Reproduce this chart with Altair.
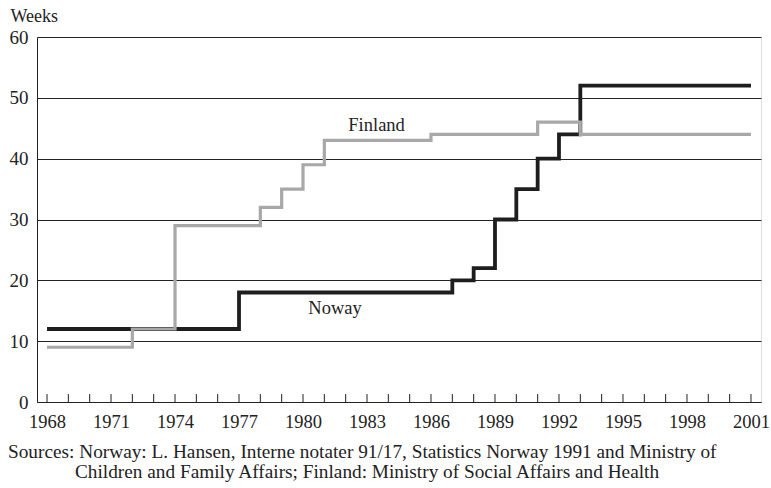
import altair as alt
import pandas as pd

norway_years = [1968, 1977, 1987, 1988, 1989, 1990, 1991, 1992, 1993, 2001]
norway_weeks = [12, 18, 20, 22, 30, 35, 40, 44, 52, 52]
finland_years = [1968, 1972, 1974, 1978, 1979, 1980, 1981, 1986, 1991, 1993, 2001]
finland_weeks = [9, 12, 29, 32, 35, 39, 43, 44, 46, 44, 44]
tick_years = list(range(1968, 2002))
label_years = list(range(1968, 2002, 3))

FONT = "Liberation Serif"
W, H = 724, 365

df = pd.concat([
    pd.DataFrame({"year": norway_years, "weeks": norway_weeks, "country": "Norway"}),
    pd.DataFrame({"year": finland_years, "weeks": finland_weeks, "country": "Finland"}),
])

xscale = alt.Scale(domain=[1967.53, 2001.47], nice=False, zero=False)
yscale = alt.Scale(domain=[0, 60], nice=False)

base = alt.Chart(df)

lines = base.mark_line(interpolate="step-after", strokeCap="butt", strokeJoin="miter").encode(
    x=alt.X("year:Q", scale=xscale,
            axis=alt.Axis(values=label_years, format="d", title=None, ticks=False,
                          grid=False, domainColor="#222", labelFont=FONT, labelFontSize=18.5,
                          labelColor="#222", labelPadding=10, labelFlush=False)),
    y=alt.Y("weeks:Q", scale=yscale,
            axis=alt.Axis(values=[0, 10, 20, 30, 40, 50, 60], title="Weeks", titleAngle=0,
                          titleX=-27, titleY=-16, titleAlign="left", titleBaseline="alphabetic",
                          titleFont=FONT, titleFontSize=18, titleFontWeight="normal",
                          titleColor="#222", ticks=False, labelFont=FONT, labelFontSize=19,
                          labelColor="#222", labelPadding=9, gridColor="#222", gridWidth=1,
                          gridOpacity=1, domainColor="#222")),
    color=alt.Color("country:N", scale=alt.Scale(domain=["Norway", "Finland"],
                                                 range=["#1e1e1e", "#a8a8a8"]), legend=None),
    strokeWidth=alt.StrokeWidth("country:N", scale=alt.Scale(domain=["Norway", "Finland"],
                                                             range=[3.8, 3.2]), legend=None),
    order=alt.Order("year:Q"),
)

ticks = alt.Chart(pd.DataFrame({"year": tick_years})).mark_rule(color="#222", strokeWidth=1).encode(
    x=alt.X("year:Q", scale=xscale),
    y=alt.value(H),
    y2=alt.value(H - 8),
)

labels = alt.Chart(pd.DataFrame({
    "year": [1983.45, 1981.5], "weeks": [45.5, 15.5], "text": ["Finland", "Noway"]
})).mark_text(font=FONT, fontSize=18.5, color="#222", baseline="middle").encode(
    x=alt.X("year:Q", scale=xscale),
    y=alt.Y("weeks:Q", scale=yscale),
    text="text:N",
)

source_lines = ["Sources: Norway: L. Hansen, Interne notater 91/17, Statistics Norway 1991 and Ministry of",
                "Children and Family Affairs; Finland: Ministry of Social Affairs and Health"]
src1 = alt.Chart(pd.DataFrame({"t": [source_lines[0]]})).mark_text(
    font=FONT, fontSize=19.3, color="#222", align="left", baseline="alphabetic").encode(
    x=alt.value(-29), y=alt.value(421), text="t:N")
src2 = alt.Chart(pd.DataFrame({"t": [source_lines[1]]})).mark_text(
    font=FONT, fontSize=19.3, color="#222", align="left", baseline="alphabetic").encode(
    x=alt.value(38), y=alt.value(441), text="t:N")

chart = alt.layer(lines, ticks, labels, src1, src2).properties(
    width=W, height=H,
    autosize="none",
    padding={"left": 37, "top": 37, "right": 10, "bottom": 86},
).configure_view(stroke="#999", strokeWidth=1.5).configure(background="white")

chart.save("out.html", embed_options={"renderer": "svg", "actions": False})
